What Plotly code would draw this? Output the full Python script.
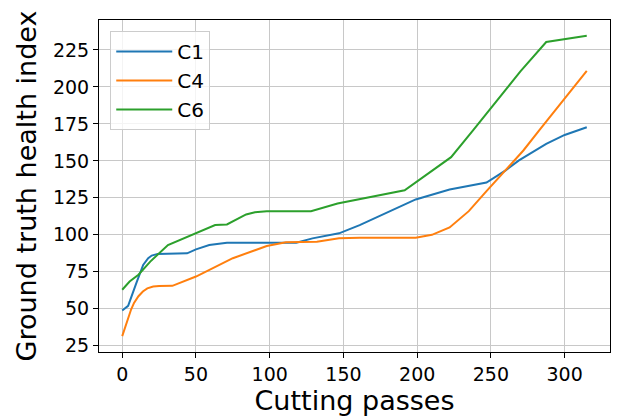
import plotly.graph_objects as go

# C1
c1_x = [0, 4, 9.8, 14.2, 17.6, 20, 24, 30, 44, 50, 59, 71, 118, 129, 147, 161, 175, 199, 222, 247, 260, 269, 287.5, 300, 315]
c1_y = [48.9, 52, 68, 79.6, 84.2, 86.0, 87.1, 87.3, 87.5, 90.2, 93.1, 94.7, 94.7, 97.6, 101, 106.6, 113, 123.9, 130.6, 135.3, 143.6, 150.3, 161.5, 167.5, 172.7]
# C4
c4_x = [0, 2, 4, 6, 8, 11, 14, 17, 21, 25, 34, 50, 75, 98, 111, 132, 147, 161, 199, 210, 222, 235, 247, 260, 272, 283, 300, 315]
c4_y = [31.5, 37.5, 44, 49.5, 54, 58.5, 61.7, 63.8, 65, 65.4, 65.5, 71.8, 84.2, 92.4, 94.9, 95.3, 97.6, 98, 98, 100, 105, 116, 129.5, 143.5, 157, 171, 192.5, 210.8]
# C6
c6_x = [0, 5, 11, 19, 31, 50, 63, 71, 84, 90, 95, 98, 128, 146, 191.5, 223, 238, 249, 256, 270, 287.5, 315]
c6_y = [62.9, 68.4, 73, 81.9, 93.1, 101, 106.6, 107, 113.8, 115.3, 115.9, 116, 116, 121.2, 130.1, 152.5, 170.8, 184.5, 193, 210.5, 230.3, 234.5]

names = ["C1", "C4", "C6"]
colors = ["#1f77b4", "#ff7f0e", "#2ca02c"]
xs = [c1_x, c4_x, c6_x]
ys = [c1_y, c4_y, c6_y]

fig = go.Figure()
for n, c, x, y in zip(names, colors, xs, ys):
    fig.add_trace(go.Scatter(x=x, y=y, name=n, mode="lines",
                             line=dict(color=c, width=2)))

axis_common = dict(
    showline=True, linecolor="black", linewidth=1, mirror=True,
    showgrid=True, gridcolor="#c8c8c8", gridwidth=1,
    ticks="outside", ticklen=5, tickcolor="black", tickwidth=1,
    zeroline=False,
    tickfont=dict(family="DejaVu Sans", size=19, color="black"),
)

fig.update_xaxes(range=[-15.75, 330.75], dtick=50, tick0=0,
                 title=dict(text="Cutting passes", font=dict(family="DejaVu Sans", size=27, color="black"), standoff=4),
                 **axis_common)
fig.update_yaxes(range=[20.8, 245.2], dtick=25, tick0=0,
                 title=dict(text="Ground truth health index", font=dict(family="DejaVu Sans", size=27, color="black"), standoff=8),
                 **axis_common)

fig.update_layout(
    width=618, height=418,
    margin=dict(l=99, r=8, t=20, b=66),
    paper_bgcolor="white", plot_bgcolor="white",
    font=dict(family="DejaVu Sans", color="black"),
    legend=dict(x=0.022, y=0.967, xanchor="left", yanchor="top",
                bgcolor="rgba(255,255,255,0.8)", bordercolor="#cccccc", borderwidth=1,
                font=dict(family="DejaVu Sans", size=20, color="black"),
                itemwidth=56, tracegroupgap=0),
    showlegend=True,
)

fig.write_html("out.html")
